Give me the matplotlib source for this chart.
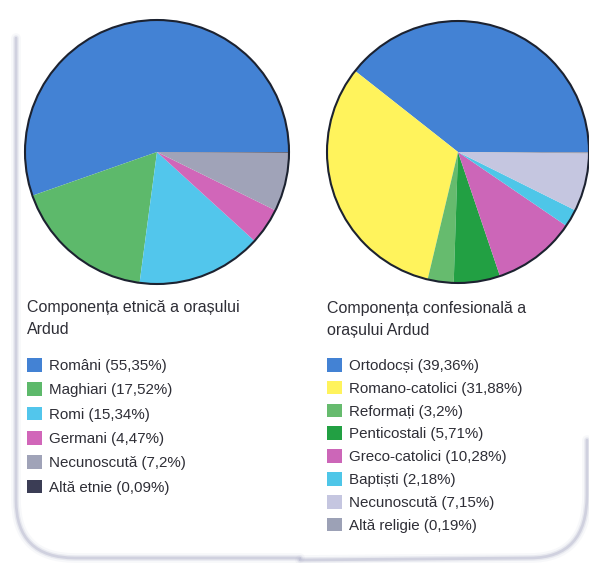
import matplotlib.pyplot as plt
from matplotlib.path import Path
from matplotlib.patches import PathPatch, Circle

# ethnic composition
etnii = ["Români", "Maghiari", "Romi", "Germani", "Necunoscută", "Altă etnie"]
etnii_val = [55.35, 17.52, 15.34, 4.47, 7.2, 0.09]
etnii_col = ["#4382d4", "#5db96b", "#52c6ec", "#d166b9", "#a0a3b8", "#3b3d55"]

# religious composition
religii = ["Ortodocși", "Romano-catolici", "Reformați", "Penticostali",
           "Greco-catolici", "Baptiști", "Necunoscută", "Altă religie"]
religii_val = [39.36, 31.88, 3.2, 5.71, 10.28, 2.18, 7.15, 0.19]
religii_col = ["#4382d4", "#fff35c", "#66bb6e", "#22a043", "#cc66b8",
               "#4ec6e8", "#c5c6e0", "#9ca1b6"]

W, H = 589, 563
plt.rcParams['font.family'] = ['Liberation Sans', 'DejaVu Sans']
fig = plt.figure(figsize=(W / 100, H / 100), dpi=100)
fig.patch.set_facecolor("white")

# background axes in pixel coords, used for the card outlines
bg = fig.add_axes([0, 0, 1, 1])
bg.set_xlim(0, W)
bg.set_ylim(H, 0)
bg.axis("off")


def card_edge(verts, codes):
    # soft shadow-like outline
    for lw, a in [(7, 0.08), (4, 0.18), (2, 0.35)]:
        bg.add_patch(PathPatch(Path(verts, codes), fill=False,
                               edgecolor="#a4a6c2", lw=lw, alpha=a,
                               capstyle="round"))


# left card: left side + rounded bottom-left corner + bottom
card_edge([(16, 38), (16, 500), (16, 558), (75, 558), (300, 558)],
          [Path.MOVETO, Path.LINETO, Path.CURVE3, Path.CURVE3, Path.LINETO])
# right card: right side + rounded bottom-right corner + bottom
card_edge([(587, 440), (587, 495), (587, 558), (530, 558), (300, 560)],
          [Path.MOVETO, Path.LINETO, Path.CURVE3, Path.CURVE3, Path.LINETO])


def draw_pie(rect, values, colors):
    ax = fig.add_axes(rect)
    wedges, _ = ax.pie(values, colors=colors, startangle=0,
                       counterclock=True, radius=1,
                       wedgeprops=dict(linewidth=0))
    ax.add_patch(Circle((0, 0), 1, fill=False, edgecolor="#1c2230", lw=1.5))
    ax.set_xlim(-1.02, 1.02)
    ax.set_ylim(-1.02, 1.02)
    ax.set_aspect("equal")
    ax.axis("off")
    return wedges


def px_rect(cx, cy, r):
    r2 = r * 1.02
    return [(cx - r2) / W, 1 - (cy + r2) / H, 2 * r2 / W, 2 * r2 / H]


w1 = draw_pie(px_rect(157, 152, 132), etnii_val, etnii_col)
w2 = draw_pie(px_rect(458, 152, 131), religii_val, religii_col)

txt = "#2e2e36"

# titles
fig.text(27 / W, 1 - 300 / H, "Componența etnică a orașului\nArdud",
         fontsize=11.5, color=txt, va="top", ha="left", linespacing=1.55)
fig.text(327 / W, 1 - 301 / H, "Componența confesională a\norașului Ardud",
         fontsize=11.5, color=txt, va="top", ha="left", linespacing=1.55)

lab1 = [f"{n} ({str(v).replace('.', ',')}%)" for n, v in zip(etnii, etnii_val)]
lab2 = [f"{n} ({str(v).replace('.', ',')}%)" for n, v in zip(religii, religii_val)]

leg_kw = dict(loc="upper left", frameon=False, fontsize=10.9,
              handlelength=1.0, handleheight=1.0, handletextpad=0.45,
              borderpad=0, borderaxespad=0, labelcolor=txt)
l1 = fig.legend(w1, lab1, bbox_to_anchor=(27 / W, 1 - 358 / H),
                labelspacing=0.62, **leg_kw)
l2 = fig.legend(w2, lab2, bbox_to_anchor=(327 / W, 1 - 358 / H),
                labelspacing=0.52, **leg_kw)

fig.savefig("out.png", dpi=100, facecolor="white")
